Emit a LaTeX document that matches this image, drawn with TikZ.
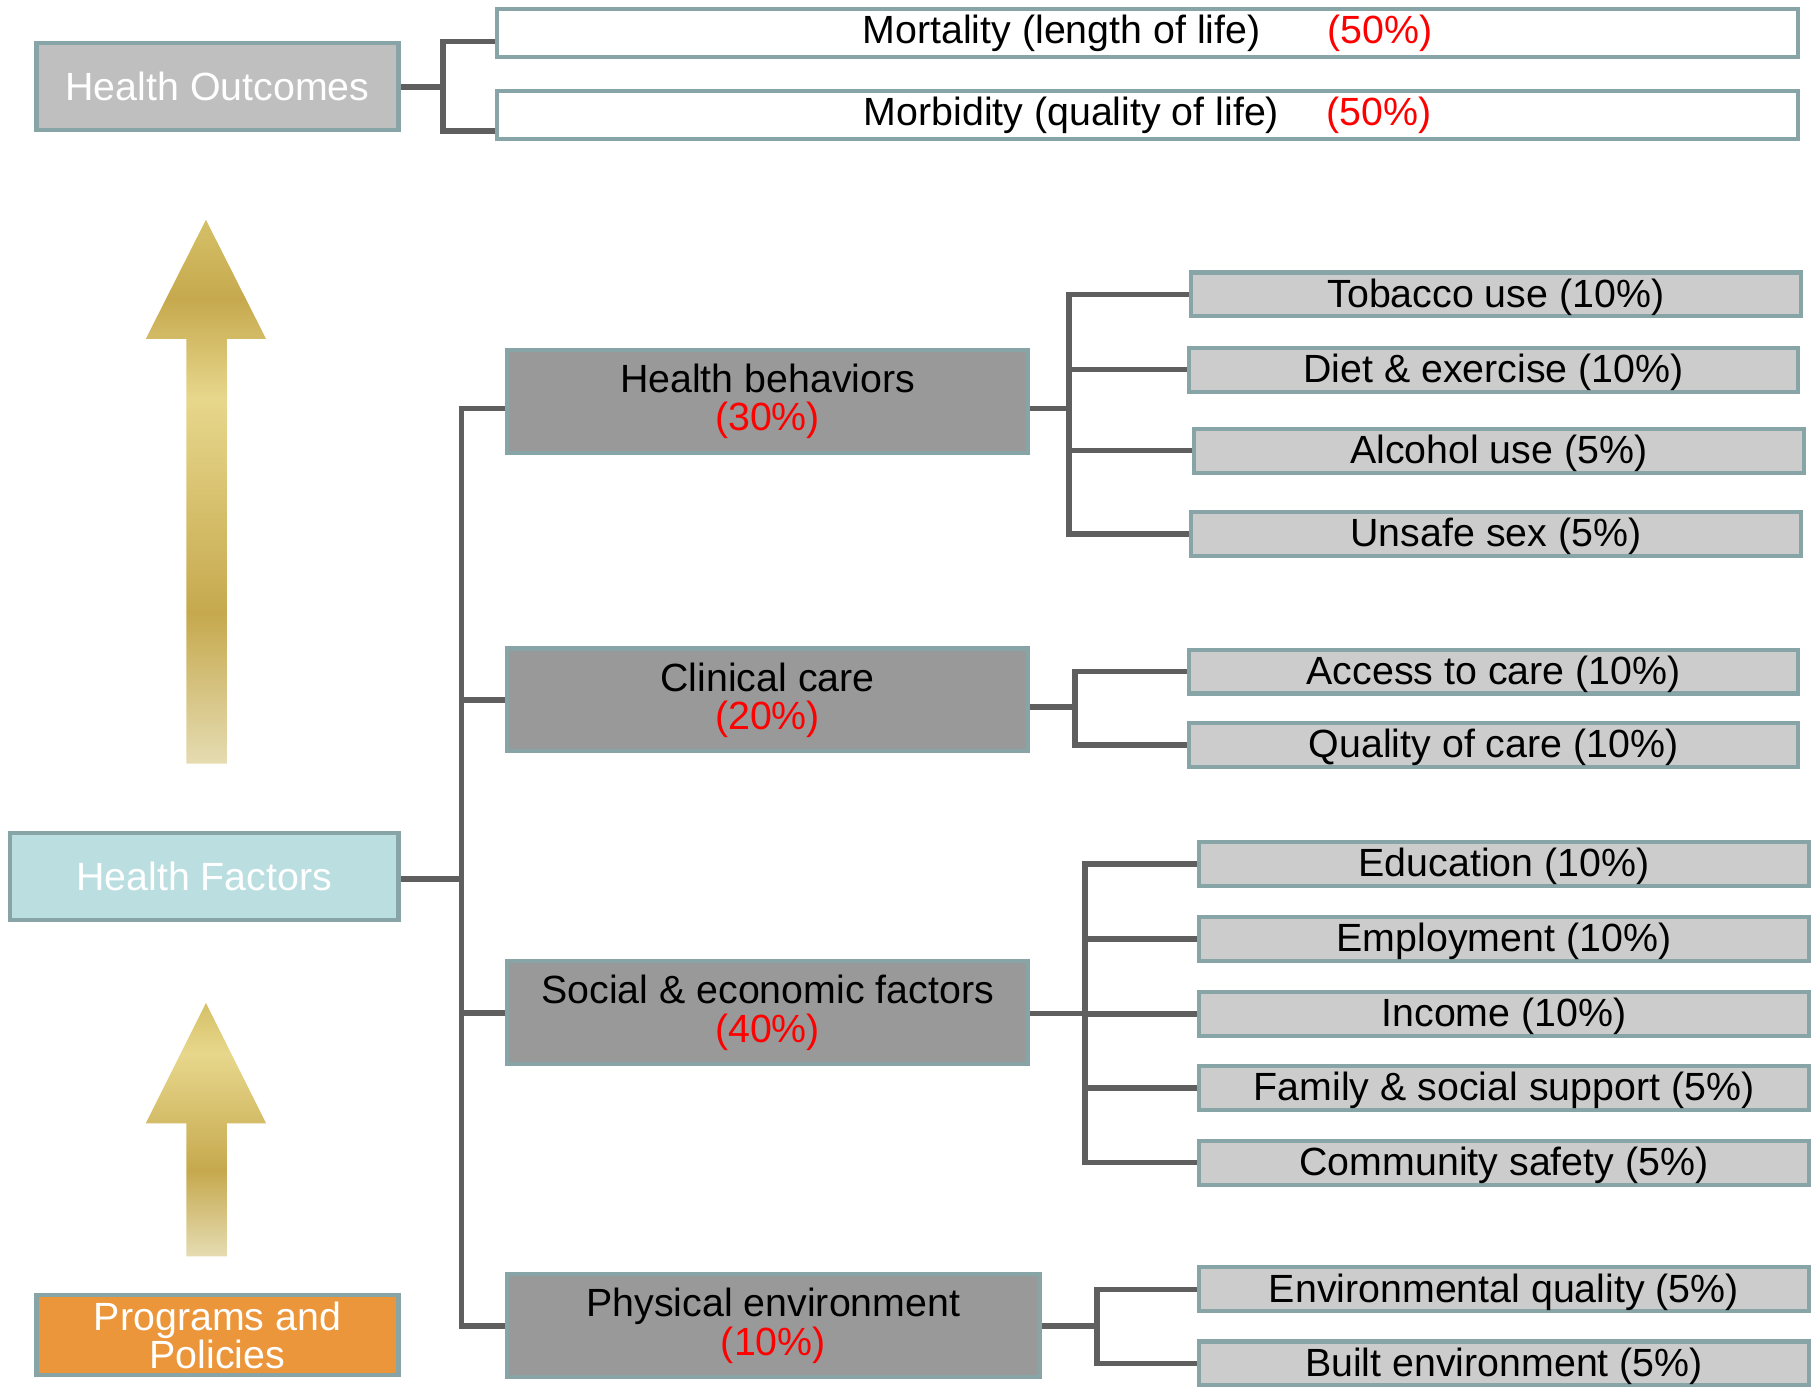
\documentclass[tikz,border=0pt]{standalone}
\usepackage{fontspec}
\setmainfont{Liberation Sans}
\definecolor{gpale}{HTML}{E5DCB2}
\definecolor{gdark}{HTML}{C6A94E}
\definecolor{glight}{HTML}{E7D78C}
\definecolor{gtop}{HTML}{D5C067}
\pgfdeclareverticalshading{goldlong}{100bp}{color(0bp)=(gpale); color(25bp)=(gpale); color(38.85bp)=(gdark); color(58.55bp)=(glight); color(67.7bp)=(gdark); color(75bp)=(gtop); color(100bp)=(gtop)}
\pgfdeclareverticalshading{goldshort}{100bp}{color(0bp)=(gpale); color(25bp)=(gpale); color(42bp)=(gdark); color(65bp)=(glight); color(75bp)=(gtop); color(100bp)=(gtop)}
\begin{document}
\begin{tikzpicture}[x=0.5pt,y=-0.5pt,
  box/.style={draw=edge,line width=1.8pt,inner sep=0pt,align=center,font=\fontsize{17}{16.5}\selectfont},
  topbox/.style={box,fill=white,minimum width=562.5pt,minimum height=21pt},
  headbox/.style={box,text=white,minimum width=156.5pt,minimum height=37.5pt},
  catbox/.style={box,fill=catfill,minimum width=225pt,minimum height=44.5pt},
  leafbox/.style={box,fill=leaffill,minimum width=263.5pt,minimum height=19pt,text depth=2pt,text height=13pt},
  link/.style={draw=linkc,line width=2.4pt}]
\definecolor{edge}{HTML}{87A4A6}
\definecolor{catfill}{HTML}{999999}
\definecolor{leaffill}{HTML}{CCCCCC}
\definecolor{linkc}{HTML}{5F5F5F}
\definecolor{outfill}{HTML}{BFBFBF}
\definecolor{facfill}{HTML}{BBDFE1}
\definecolor{progfill}{HTML}{EC963B}
\clip (0,0) rectangle (1568,1199);
\shade[shading=goldlong] (161,660) -- (161,293) -- (126,293) -- (178,190) -- (230,293) -- (196,293) -- (196,660) -- cycle;
\shade[shading=goldshort] (161,1086) -- (161,971) -- (126,971) -- (178,867) -- (230,971) -- (196,971) -- (196,1086) -- cycle;
\node[headbox,fill=outfill] (out) at (188,75) {Health Outcomes};
\node[headbox,fill=facfill,minimum width=168pt] (fac) at (176.5,757.5) {Health Factors};
\node[headbox,fill=progfill,minimum height=34.5pt] (prog) at (188,1154) {Programs and\\Policies};
\node[topbox] (mort) at (992,28.5) {Mortality (length of life)\hspace{29pt}\textcolor{red}{(50\%)}};
\node[topbox] (morb) at (992,99.5) {Morbidity (quality of life)\hspace{20.5pt}\textcolor{red}{(50\%)}};
\node[catbox] (beh) at (663.5,347) {Health behaviors\\\textcolor{red}{(30\%)}};
\node[catbox] (care) at (663.5,605) {Clinical care\\\textcolor{red}{(20\%)}};
\node[catbox] (soc) at (663.5,875.5) {Social \& economic factors\\\textcolor{red}{(40\%)}};
\node[catbox,minimum width=230pt] (phys) at (668.5,1146) {Physical environment\\\textcolor{red}{(10\%)}};
\node[leafbox] (tob) at (1293,254.5) {Tobacco use (10\%)};
\node[leafbox] (diet) at (1291,319.5) {Diet \& exercise (10\%)};
\node[leafbox] (alc) at (1295.5,389.5) {Alcohol use (5\%)};
\node[leafbox] (sex) at (1293,461.5) {Unsafe sex (5\%)};
\node[leafbox] (acc) at (1291,580.5) {Access to care (10\%)};
\node[leafbox] (qual) at (1291,644) {Quality of care (10\%)};
\node[leafbox] (edu) at (1300,747) {Education (10\%)};
\node[leafbox] (emp) at (1300,811.5) {Employment (10\%)};
\node[leafbox] (inc) at (1300,876.5) {Income (10\%)};
\node[leafbox] (fam) at (1300,940.5) {Family \& social support (5\%)};
\node[leafbox] (com) at (1300,1005) {Community safety (5\%)};
\node[leafbox] (envq) at (1300,1114.5) {Environmental quality (5\%)};
\node[leafbox] (blt) at (1300,1178.5) {Built environment (5\%)};
\coordinate (ospine) at (383,75);
\coordinate (fspine) at (399,760);
\coordinate (bspine) at (924,353);
\coordinate (cspine) at (929,611);
\coordinate (sspine) at (938,876);
\coordinate (pspine) at (948,1146);
\draw[link] (out.east) -- (out.east -| ospine);
\draw[link] ([yshift=-3.75pt]mort.west) -| (ospine) |- ([yshift=-6.75pt]morb.west);
\draw[link] (fac.east |- fspine) -- (fspine);
\draw[link] ([yshift=-3pt]beh.west) -| (fspine) |- (phys.west);
\draw[link] (care.west) -- (care.west -| fspine);
\draw[link] (soc.west) -- (soc.west -| fspine);
\draw[link] (beh.east |- bspine) -- ([xshift=1.5pt]bspine);
\draw[link] (tob.west) -| (sex.west -| bspine) -- (sex.west);
\foreach \k in {diet,alc}
  \draw[link] (\k.west) -- (\k.west -| bspine);
\draw[link] (care.east |- cspine) -- (cspine);
\draw[link] (acc.west) -| (qual.west -| cspine) -- (qual.west);
\draw[link] (soc.east |- sspine) -- (sspine);
\draw[link] (edu.west) -| (com.west -| sspine) -- (com.west);
\foreach \k in {emp,inc,fam}
  \draw[link] (\k.west) -- (\k.west -| sspine);
\draw[link] (phys.east |- pspine) -- (pspine);
\draw[link] (envq.west) -| (blt.west -| pspine) -- (blt.west);
\end{tikzpicture}
\end{document}
